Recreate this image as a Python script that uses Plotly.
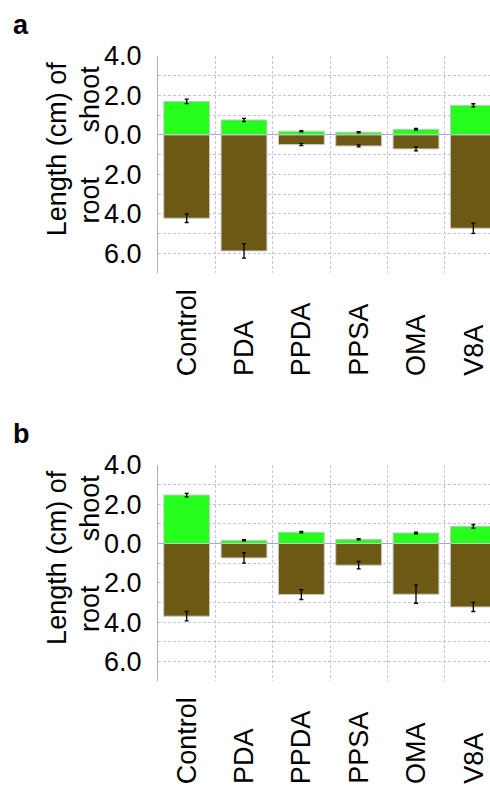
import plotly.graph_objects as go

categories = ["Control", "PDA", "PPDA", "PPSA", "OMA", "V8A"]

a_shoot = [1.70, 0.76, 0.19, 0.14, 0.29, 1.50]
a_shoot_err = [0.11, 0.08, 0.03, 0.03, 0.04, 0.08]
a_root = [4.22, 5.88, 0.49, 0.56, 0.71, 4.73]
a_root_err = [0.22, 0.37, 0.05, 0.05, 0.10, 0.26]

b_shoot = [2.47, 0.17, 0.58, 0.22, 0.54, 0.88]
b_shoot_err = [0.09, 0.03, 0.04, 0.03, 0.04, 0.09]
b_root = [3.70, 0.73, 2.60, 1.10, 2.58, 3.23]
b_root_err = [0.24, 0.27, 0.25, 0.19, 0.46, 0.23]

y_tick_vals = [4, 2, 0, -2, -4, -6]
y_tick_text = ["4.0", "2.0", "0.0", "2.0", "4.0", "6.0"]

W, H = 490, 789
FONT = "Liberation Sans, Arial, Helvetica, sans-serif"
GREEN = "rgb(38,255,30)"
BROWN = "rgb(107,89,20)"
GRID = "rgb(195,195,242)"
AXLINE = "rgb(170,170,238)"
ZERO = "rgb(165,165,236)"


def px_x(p):
    return p / W


def px_y(p):
    return 1 - p / H


fig = go.Figure()

panels = [
    ("x", "y", a_shoot, a_shoot_err, a_root, a_root_err),
    ("x2", "y2", b_shoot, b_shoot_err, b_root, b_root_err),
]
for xa, ya, sh, she, ro, roe in panels:
    fig.add_trace(go.Bar(
        x=categories, y=sh, xaxis=xa, yaxis=ya,
        marker=dict(color=GREEN, line=dict(color="rgb(200,200,200)", width=1)),
        error_y=dict(type="data", array=she, color="black", thickness=1.3, width=2),
        showlegend=False,
    ))
    fig.add_trace(go.Bar(
        x=categories, y=[-v for v in ro], xaxis=xa, yaxis=ya,
        marker=dict(color=BROWN, line=dict(color="rgb(200,200,200)", width=1)),
        error_y=dict(type="data", array=roe, color="black", thickness=1.3, width=2),
        showlegend=False,
    ))

x_left = 158
x_range = [-0.5, len(categories) - 0.5 - (502 - W) / ((502 - x_left) / len(categories))]

common_x = dict(
    type="category", range=x_range, domain=[px_x(x_left), 1],
    tickson="boundaries", showgrid=True, gridcolor=GRID, griddash="3px,2px",
    gridwidth=1, showticklabels=False, ticks="", showline=False, zeroline=False,
    fixedrange=True, automargin=False,
)
common_y = dict(
    range=[-7, 4], tickmode="array", tickvals=y_tick_vals, ticktext=y_tick_text,
    showgrid=True, gridcolor=GRID, griddash="3px,2px", gridwidth=1,
    minor=dict(dtick=1, tick0=0, showgrid=True, gridcolor=GRID, griddash="3px,2px", gridwidth=1),
    zeroline=True, zerolinecolor=ZERO, zerolinewidth=1.2,
    showline=True, linecolor=AXLINE, linewidth=1,
    ticks="", ticklabelstandoff=10,
    tickfont=dict(family=FONT, size=27, color="black"),
    fixedrange=True, automargin=False,
)

fig.update_layout(
    template="none",
    width=W, height=H, autosize=False,
    margin=dict(l=0, r=0, t=0, b=0, pad=0),
    paper_bgcolor="white", plot_bgcolor="white",
    barmode="relative", bargap=0.2,
    font=dict(family=FONT, size=27, color="black"),
    xaxis=dict(common_x, anchor="y"),
    yaxis=dict(common_y, domain=[px_y(273), px_y(56)], anchor="x"),
    xaxis2=dict(common_x, anchor="y2"),
    yaxis2=dict(common_y, domain=[px_y(681), px_y(465)], anchor="x2"),
)

annotations = []
for xa, ya, top_px, bottom_px, label, label_px in [
    ("x", "y", 56, 273, "a", 25),
    ("x2", "y2", 465, 681, "b", 434),
]:
    annotations.append(dict(
        text="<b>%s</b>" % label, xref="paper", yref="paper",
        x=px_x(11), y=px_y(label_px), xanchor="left", yanchor="middle",
        showarrow=False, font=dict(family=FONT, size=27, color="black"),
    ))
    annotations.append(dict(
        text="Length (cm) of", xref="paper", yref=ya, x=px_x(57), y=-0.73,
        xanchor="center", yanchor="middle", textangle=-90, showarrow=False,
        font=dict(family=FONT, size=27, color="black"),
    ))
    annotations.append(dict(
        text="shoot", xref="paper", yref=ya, x=px_x(90), y=1.8,
        xanchor="center", yanchor="middle", textangle=-90, showarrow=False,
        font=dict(family=FONT, size=27, color="black"),
    ))
    annotations.append(dict(
        text="root", xref="paper", yref=ya, x=px_x(90), y=-3.33,
        xanchor="center", yanchor="middle", textangle=-90, showarrow=False,
        font=dict(family=FONT, size=27, color="black"),
    ))
    for c in categories:
        annotations.append(dict(
            text=c, xref=xa, yref="paper", x=c, y=px_y(bottom_px + 17 + 88),
            xanchor="center", yanchor="bottom", textangle=-90, showarrow=False,
            xshift=0, font=dict(family=FONT, size=27, color="black"),
        ))

fig.update_layout(annotations=annotations)

fig.write_html("out.html")
